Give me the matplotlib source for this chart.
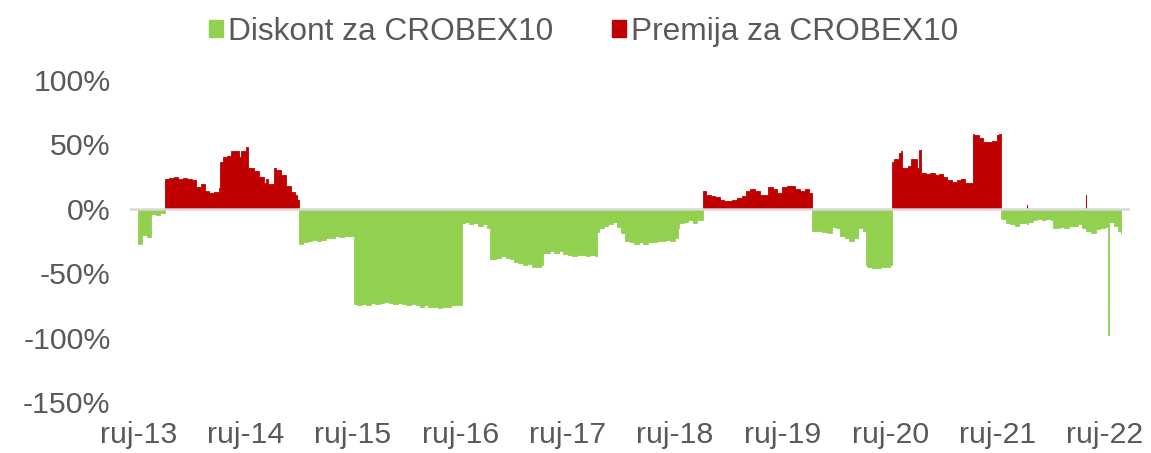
"""
CROBEX10 premija / diskont - recreation of the area chart.
"""

import numpy as np
import matplotlib
matplotlib.use("Agg")
import matplotlib.pyplot as plt
from matplotlib.patches import Patch

# observation dates (step series) and premium(+) / discount(-) in %
dates = [
    "2013-09-01", "2013-09-15", "2013-10-01", "2013-10-15", "2013-11-01", "2013-11-15",
    "2013-12-01", "2013-12-15", "2014-01-01", "2014-01-15", "2014-02-01", "2014-02-15",
    "2014-03-01", "2014-03-15", "2014-04-01", "2014-04-15", "2014-05-01", "2014-05-15",
    "2014-06-01", "2014-06-06", "2014-06-15", "2014-07-01", "2014-07-15", "2014-08-01",
    "2014-08-08", "2014-08-15", "2014-09-01", "2014-09-10", "2014-09-15", "2014-10-01",
    "2014-10-15", "2014-11-01", "2014-11-10", "2014-11-15", "2014-12-01", "2014-12-05",
    "2014-12-15", "2015-01-01", "2015-01-15", "2015-02-01", "2015-02-15", "2015-02-22",
    "2015-03-01", "2015-03-15", "2015-04-01", "2015-04-15", "2015-05-01", "2015-05-15",
    "2015-06-01", "2015-06-15", "2015-07-01", "2015-07-15", "2015-08-01", "2015-08-15",
    "2015-09-01", "2015-09-05", "2015-09-15", "2015-10-01", "2015-10-15", "2015-11-01",
    "2015-11-15", "2015-12-01", "2015-12-15", "2016-01-01", "2016-01-15", "2016-02-01",
    "2016-02-15", "2016-03-01", "2016-03-15", "2016-04-01", "2016-04-15", "2016-05-01",
    "2016-05-15", "2016-06-01", "2016-06-15", "2016-07-01", "2016-07-15", "2016-08-01",
    "2016-08-15", "2016-09-01", "2016-09-06", "2016-09-15", "2016-10-01", "2016-10-15",
    "2016-11-01", "2016-11-15", "2016-12-01", "2016-12-10", "2017-01-01", "2017-01-15",
    "2017-02-01", "2017-02-15", "2017-03-01", "2017-03-15", "2017-04-01", "2017-04-15",
    "2017-05-01", "2017-05-15", "2017-06-01", "2017-06-08", "2017-06-15", "2017-07-01",
    "2017-07-15", "2017-08-01", "2017-08-15", "2017-09-01", "2017-09-15", "2017-10-01",
    "2017-10-15", "2017-11-01", "2017-11-15", "2017-12-01", "2017-12-10", "2017-12-15",
    "2018-01-01", "2018-01-15", "2018-02-01", "2018-02-15", "2018-03-01", "2018-03-15",
    "2018-04-01", "2018-04-15", "2018-05-01", "2018-05-15", "2018-06-01", "2018-06-15",
    "2018-07-01", "2018-07-15", "2018-08-01", "2018-08-15", "2018-09-01", "2018-09-10",
    "2018-09-15", "2018-10-01", "2018-10-15", "2018-11-01", "2018-11-15", "2018-12-01",
    "2018-12-06", "2018-12-15", "2019-01-01", "2019-01-15", "2019-02-01", "2019-02-15",
    "2019-03-01", "2019-03-15", "2019-04-01", "2019-04-15", "2019-05-01", "2019-05-15",
    "2019-06-01", "2019-06-15", "2019-07-01", "2019-07-15", "2019-08-01", "2019-08-15",
    "2019-09-01", "2019-09-15", "2019-10-01", "2019-10-15", "2019-11-01", "2019-11-15",
    "2019-12-01", "2019-12-10", "2020-01-01", "2020-01-15", "2020-02-01", "2020-02-15",
    "2020-03-01", "2020-03-15", "2020-04-01", "2020-04-15", "2020-05-01", "2020-05-15",
    "2020-06-01", "2020-06-10", "2020-06-15", "2020-07-01", "2020-07-15", "2020-08-01",
    "2020-08-15", "2020-09-01", "2020-09-07", "2020-09-15", "2020-10-01", "2020-10-08",
    "2020-10-12", "2020-11-01", "2020-11-10", "2020-11-15", "2020-12-01", "2020-12-08",
    "2020-12-15", "2021-01-01", "2021-01-15", "2021-02-01", "2021-02-15", "2021-03-01",
    "2021-03-15", "2021-04-01", "2021-04-15", "2021-05-01", "2021-05-15", "2021-06-01",
    "2021-06-10", "2021-06-15", "2021-07-01", "2021-07-15", "2021-08-01", "2021-08-15",
    "2021-09-01", "2021-09-06", "2021-09-12", "2021-09-15", "2021-10-01", "2021-10-15",
    "2021-11-01", "2021-11-15", "2021-12-01", "2021-12-10", "2021-12-12", "2021-12-15",
    "2022-01-01", "2022-01-15", "2022-02-01", "2022-02-15", "2022-03-01", "2022-03-10",
    "2022-03-15", "2022-04-01", "2022-04-15", "2022-05-01", "2022-05-15", "2022-06-01",
    "2022-06-15", "2022-06-28", "2022-06-30", "2022-07-15", "2022-08-01", "2022-08-15",
    "2022-09-01", "2022-09-12", "2022-09-14", "2022-09-15", "2022-10-01", "2022-10-15",
    "2022-10-25",
]
values = [
    -27, -20, -22, -4, -5, -3,
    23, 24, 25, 23, 24, 23,
    22, 17, 19, 14, 12, 13,
    16, 36, 40, 41, 45, 45,
    40, 45, 48, 32, 32, 29,
    25, 20, 23, 19, 19, 32,
    30, 26, 18, 13, 11, 7,
    -27, -26, -25, -24, -25, -24,
    -23, -23, -21, -22, -21, -21,
    -21, -74, -75, -74, -75, -73,
    -74, -73, -72, -73, -74, -73,
    -74, -75, -74, -75, -76, -75,
    -76, -76, -77, -76, -76, -75,
    -75, -75, -11, -10, -12, -11,
    -13, -12, -15, -39, -38, -37,
    -38, -39, -41, -42, -44, -43,
    -45, -45, -44, -34, -34, -33,
    -34, -33, -35, -36, -37, -36,
    -36, -37, -36, -37, -18, -15,
    -13, -12, -10, -14, -19, -25,
    -26, -27, -26, -27, -26, -26,
    -25, -25, -24, -25, -23, -15,
    -11, -10, -9, -11, -9, -9,
    14, 11, 10, 9, 7, 6,
    6, 7, 8, 10, 14, 15,
    14, 11, 11, 17, 15, 12,
    17, 18, 18, 15, 14, 15,
    12, -17, -17, -18, -19, -14,
    -15, -21, -23, -25, -23, -15,
    -17, -44, -45, -46, -46, -45,
    -45, -44, 36, 39, 43, 45,
    32, 33, 39, 39, 32, 46,
    28, 27, 28, 26, 27, 25,
    22, 21, 22, 23, 20, 20,
    58, 57, 55, 52, 52, 53,
    57, 58, -7, -8, -11, -12,
    -13, -11, -11, 3, -12, -10,
    -9, -8, -9, -8, -9, -15,
    -15, -14, -15, -13, -13, -12,
    -15, 11, -17, -19, -16, -15,
    -14, -98, -11, -10, -13, -17,
    -19,
]

tick_years = list(range(2013, 2023))
tick_labels = [f"ruj-{y % 100:02d}" for y in tick_years]

GREEN = "#92D050"
RED = "#C00000"
TEXT = "#595959"

plt.rcParams["font.family"] = ["Liberation Sans", "DejaVu Sans"]

d = np.array(dates, dtype="datetime64[D]")
v = np.array(values, dtype=float)
pos = np.where(v > 0, v, 0)
neg = np.where(v < 0, v, 0)

fig = plt.figure(figsize=(11.51, 4.53), dpi=100)
ax = fig.add_axes([0.113, 0.1126, 0.869, 0.7108])

ax.fill_between(d, 0, neg, step="post", color=GREEN, linewidth=0.6, edgecolor=GREEN)
ax.fill_between(d, 0, pos, step="post", color=RED, linewidth=0.6, edgecolor=RED)
ax.axhline(0, color="#D9D9D9", linewidth=1.8, zorder=3)

ax.set_ylim(-150, 100)
ax.set_yticks([100, 50, 0, -50, -100, -150])
ax.set_yticklabels([f"{t}%" for t in [100, 50, 0, -50, -100, -150]])
ax.set_xlim(np.datetime64("2013-08-04"), np.datetime64("2022-11-27"))
ax.set_xticks([np.datetime64(f"{y}-09-01") for y in tick_years])
ax.set_xticklabels(tick_labels)

ax.tick_params(axis="both", length=0, labelsize=21.8, colors=TEXT)
ax.tick_params(axis="x", pad=14)
ax.tick_params(axis="y", pad=14)
for s in ax.spines.values():
    s.set_visible(False)

handles = [Patch(color=GREEN, label="Diskont za CROBEX10"),
           Patch(color=RED, label="Premija za CROBEX10")]
leg = fig.legend(handles=handles, loc="upper center", bbox_to_anchor=(0.507, 1.025),
                 ncol=2, frameon=False, fontsize=22.8, handlelength=0.45, handleheight=0.45,
                 handletextpad=0.15, columnspacing=1.85)
for t in leg.get_texts():
    t.set_color(TEXT)

fig.savefig("out.png", dpi=100)
